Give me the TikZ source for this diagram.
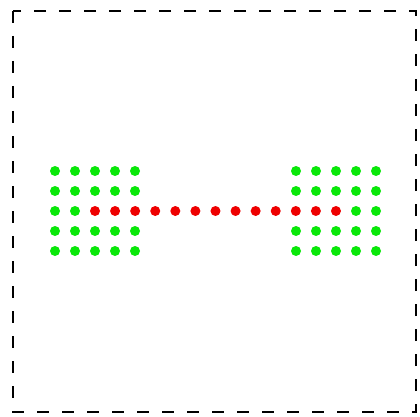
\documentclass[tikz,border=0pt]{standalone}
\definecolor{dotgreen}{RGB}{10,232,10}
\definecolor{dotred}{RGB}{238,0,0}
\begin{document}
\begin{tikzpicture}[x=1pt,y=-1pt,
  gdot/.style={circle,fill=dotgreen,inner sep=0pt,minimum size=10pt},
  rdot/.style={circle,fill=dotred,inner sep=0pt,minimum size=10pt},
  frame/.style={draw=black,line width=2.6pt,dash pattern=on 12pt off 13pt}]
\useasboundingbox (0,0) rectangle (420,417);
\draw[frame] (13,11) rectangle (416,412);
% left grid (middle row: first two green, rest red)
\foreach \i in {0,...,4}{
  \foreach \j in {0,1,3,4}{
    \node[gdot] (L\i\j) at (55+20*\i,171+20*\j) {};
  }
}
\node[gdot] (L02) at (55,211) {};
\node[gdot] (L12) at (75,211) {};
% right grid (middle row: last two green)
\foreach \i in {0,...,4}{
  \foreach \j in {0,1,3,4}{
    \node[gdot] (R\i\j) at (296+20*\i,171+20*\j) {};
  }
}
\node[gdot] (R32) at (356,211) {};
\node[gdot] (R42) at (376,211) {};
% red chain
\foreach \k in {0,...,12}{
  \node[rdot] (C\k) at (95+20.08*\k,211) {};
}
\end{tikzpicture}
\end{document}
